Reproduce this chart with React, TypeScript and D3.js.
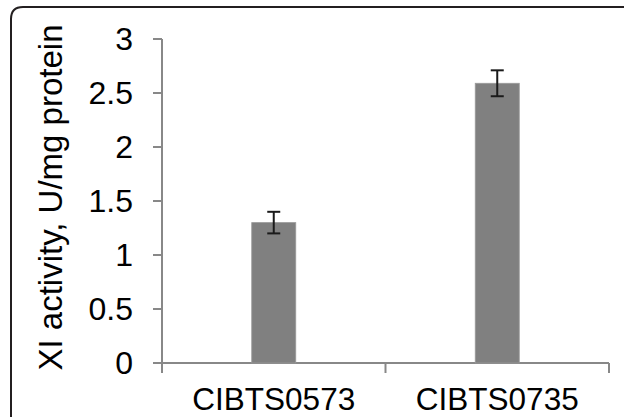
import React from "react";
import * as d3 from "d3";

const categories = ["CIBTS0573", "CIBTS0735"];
const values = [1.3, 2.59];
const errors = [0.1, 0.12];
const yTicks = [0, 0.5, 1, 1.5, 2, 2.5, 3];
const yTitle = "XI activity, U/mg protein";

export default function App() {
  const W = 624, H = 417;
  const left = 162, right = 609, top = 39, bottom = 363;
  const x = d3.scaleBand<string>().domain(categories).range([left, right]).padding(0);
  const y = d3.scaleLinear().domain([0, 3]).range([bottom, top]);
  const bw = x.bandwidth() * 0.197;
  const font = "'Liberation Sans', Arial, sans-serif";
  const axisColor = "#888888";
  const boundaries = [left, ...categories.map((c) => (x(c) as number) + x.bandwidth())];

  return (
    <svg width={W} height={H} style={{ position: "absolute", left: 0, top: 0, background: "#fff" }}>
      <rect x={0} y={0} width={W} height={H} fill="#fff" />
      {/* frame */}
      <path
        d={`M11,${H + 5} L11,${7 + 12} Q11,7 ${11 + 12},7 L${W + 5},7`}
        fill="none"
        stroke="#231f20"
        strokeWidth={2}
      />
      {/* y axis */}
      <line x1={left} x2={left} y1={top} y2={bottom + 10} stroke={axisColor} strokeWidth={2} />
      {yTicks.map((t) => (
        <g key={t}>
          <line x1={left - 9} x2={left} y1={y(t)} y2={y(t)} stroke={axisColor} strokeWidth={2} />
          <text
            x={133}
            y={y(t)}
            textAnchor="end"
            dominantBaseline="central"
            fontFamily={font}
            fontSize={32}
            fill="#000"
          >
            {t}
          </text>
        </g>
      ))}
      {/* x axis */}
      <line x1={left - 9} x2={right} y1={bottom} y2={bottom} stroke={axisColor} strokeWidth={2} />
      {boundaries.map((b, i) => (
        <line key={i} x1={b} x2={b} y1={bottom} y2={bottom + 10} stroke={axisColor} strokeWidth={2} />
      ))}
      {/* bars */}
      {categories.map((c, i) => {
        const cx = (x(c) as number) + x.bandwidth() / 2;
        return (
          <g key={c}>
            <rect
              x={cx - bw / 2}
              y={y(values[i])}
              width={bw}
              height={bottom - y(values[i])}
              fill="#808080"
              stroke="#9a9a9a"
              strokeWidth={0.8}
            />
            <line x1={cx} x2={cx} y1={y(values[i] + errors[i])} y2={y(values[i] - errors[i])} stroke="#1a1a1a" strokeWidth={2} />
            <line x1={cx - 6.5} x2={cx + 6.5} y1={y(values[i] + errors[i])} y2={y(values[i] + errors[i])} stroke="#1a1a1a" strokeWidth={2} />
            <line x1={cx - 6.5} x2={cx + 6.5} y1={y(values[i] - errors[i])} y2={y(values[i] - errors[i])} stroke="#1a1a1a" strokeWidth={2} />
            <text x={cx} y={410} textAnchor="middle" fontFamily={font} fontSize={31.5} fill="#000">
              {c}
            </text>
          </g>
        );
      })}
      {/* y title */}
      <text
        transform={`translate(62, 197.5) rotate(-90)`}
        textAnchor="middle"
        fontFamily={font}
        fontSize={33}
        fill="#000"
      >
        {yTitle}
      </text>
    </svg>
  );
}
